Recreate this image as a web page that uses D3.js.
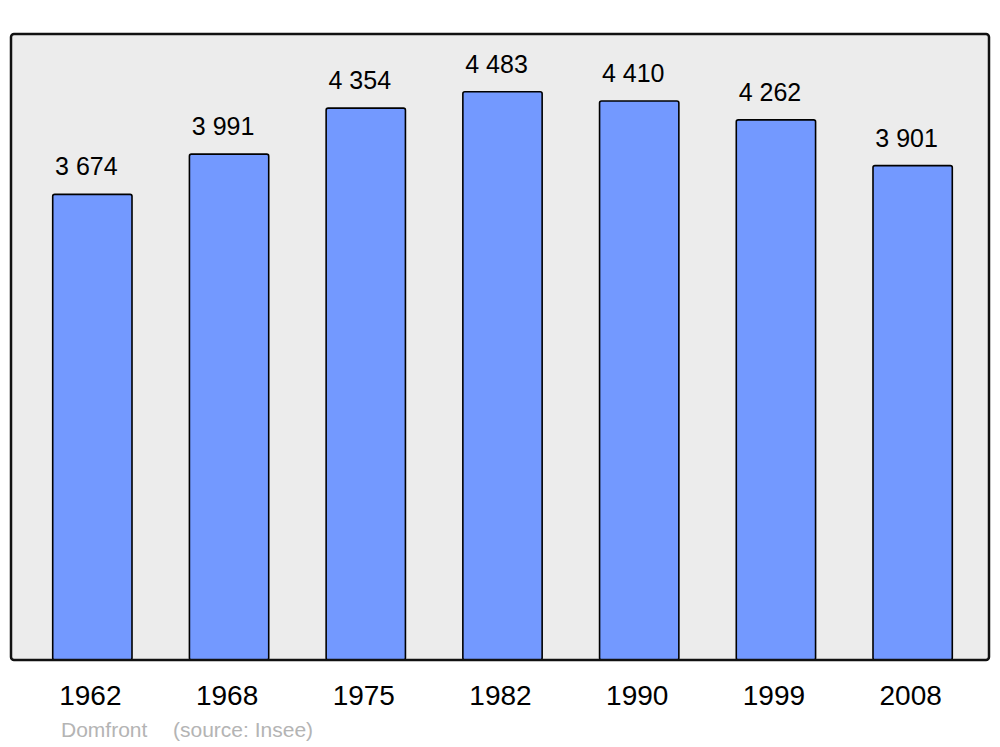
<!DOCTYPE html>
<html>
<head>
<meta charset="utf-8">
<script src="https://cdn.jsdelivr.net/npm/d3@7"></script>
<style>
  body { margin: 0; background: #fff; }
  text { font-family: "Liberation Sans", Arial, sans-serif; }
</style>
</head>
<body>
<div class="chart"></div>
<script>
var years = ["1962", "1968", "1975", "1982", "1990", "1999", "2008"];
var population = [3674, 3991, 4354, 4483, 4410, 4262, 3901];
var valueLabels = ["3 674", "3 991", "4 354", "4 483", "4 410", "4 262", "3 901"];

var svgWidth = 1000;
var svgHeight = 747;

// panel box
var panel = { left: 11, top: 34, right: 989, bottom: 660 };

var svg = d3.select(".chart")
  .append("svg")
  .attr("width", svgWidth)
  .attr("height", svgHeight);

svg.append("rect")
  .attr("x", panel.left)
  .attr("y", panel.top)
  .attr("width", panel.right - panel.left)
  .attr("height", panel.bottom - panel.top)
  .attr("rx", 3)
  .attr("fill", "#ececec");

var xScale = d3.scaleBand()
  .domain(years)
  .range([24, 981])
  .paddingInner(0.42)
  .paddingOuter(0.21);

var yScale = d3.scaleLinear()
  .domain([0, d3.max(population) * 1.1])
  .range([panel.bottom, panel.top + 1]);

var data = years.map(function(y, i) {
  return { year: y, value: population[i], label: valueLabels[i] };
});

svg.selectAll(".bar")
  .data(data)
  .enter()
  .append("rect")
  .attr("class", "bar")
  .attr("x", d => xScale(d.year))
  .attr("y", d => yScale(d.value))
  .attr("width", xScale.bandwidth())
  .attr("height", d => yScale(0) - yScale(d.value))
  .attr("rx", 2)
  .attr("fill", "#7399ff")
  .attr("stroke", "#000")
  .attr("stroke-width", 1.6);

svg.selectAll(".value")
  .data(data)
  .enter()
  .append("text")
  .attr("class", "value")
  .attr("x", d => xScale(d.year) + xScale.bandwidth() / 2 - 6)
  .attr("y", d => yScale(d.value) - 19)
  .attr("text-anchor", "middle")
  .attr("font-size", "25px")
  .attr("fill", "#000")
  .text(d => d.label);

// x axis labels
svg.selectAll(".year")
  .data(years)
  .enter()
  .append("text")
  .attr("class", "year")
  .attr("x", d => xScale(d) + xScale.bandwidth() / 2 - 2)
  .attr("y", 705)
  .attr("text-anchor", "middle")
  .attr("font-size", "28px")
  .attr("fill", "#000")
  .text(d => d);

// panel border on top of bars
svg.append("rect")
  .attr("x", panel.left)
  .attr("y", panel.top)
  .attr("width", panel.right - panel.left)
  .attr("height", panel.bottom - panel.top)
  .attr("rx", 3)
  .attr("fill", "none")
  .attr("stroke", "#111")
  .attr("stroke-width", 2.5);

svg.append("text")
  .attr("x", 61)
  .attr("y", 737)
  .attr("font-size", "21px")
  .attr("fill", "#b4b4b4")
  .text("Domfront");

svg.append("text")
  .attr("x", 173)
  .attr("y", 737)
  .attr("font-size", "21px")
  .attr("fill", "#b4b4b4")
  .text("(source: Insee)");
</script>
</body>
</html>
